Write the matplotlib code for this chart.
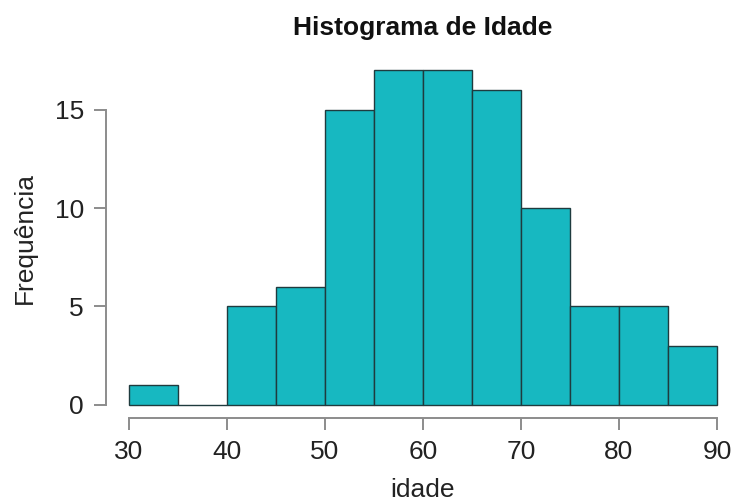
import matplotlib
matplotlib.use("Agg")
import matplotlib.pyplot as plt
import numpy as np

# histogram of idade (5-year bins)
bin_edges = [30, 35, 40, 45, 50, 55, 60, 65, 70, 75, 80, 85, 90]
counts = [1, 0, 5, 6, 15, 17, 17, 16, 10, 5, 5, 3]
x_ticks = [30, 40, 50, 60, 70, 80, 90]
y_ticks = [0, 5, 10, 15]

plt.rcParams['font.family'] = ['Liberation Sans', 'DejaVu Sans']

W, H = 732, 504
fig = plt.figure(figsize=(W / 100, H / 100), dpi=100)

# plot region in pixels (R style, 4% extension)
left, right, top, bottom = 105.5, 740.5, 57, 418
ax = fig.add_axes([left / W, (H - bottom) / H, (right - left) / W, (bottom - top) / H])
ax.set_xlim(27.6, 92.4)
ax.set_ylim(-0.68, 17.68)

widths = np.diff(bin_edges)
ax.bar(bin_edges[:-1], counts, width=widths, align="edge",
       color="#17b8c1", edgecolor="#1f3b3e", linewidth=1.0, clip_on=False)

for s in ["top", "right"]:
    ax.spines[s].set_visible(False)
for s in ["left", "bottom"]:
    ax.spines[s].set_color("#8c8c8c")
    ax.spines[s].set_linewidth(1.4)
ax.spines["left"].set_bounds(0, 15)
ax.spines["bottom"].set_bounds(30, 90)

ax.set_xticks(x_ticks)
ax.set_yticks(y_ticks)
ax.tick_params(axis="both", direction="out", length=8.5, width=1.4, color="#8c8c8c",
               labelsize=19, labelcolor="#222222", pad=7)

fig.text(423 / W, 1 - 28 / H, "Histograma de Idade", ha="center", va="center",
         fontsize=19, fontweight="bold", color="#111111")
fig.text(423 / W, 1 - 490 / H, "idade", ha="center", va="center",
         fontsize=19, color="#222222")
fig.text(25 / W, 1 - 238 / H, "Frequência", ha="center", va="center",
         rotation=90, fontsize=19, color="#222222")

fig.savefig("out.png", dpi=100)
